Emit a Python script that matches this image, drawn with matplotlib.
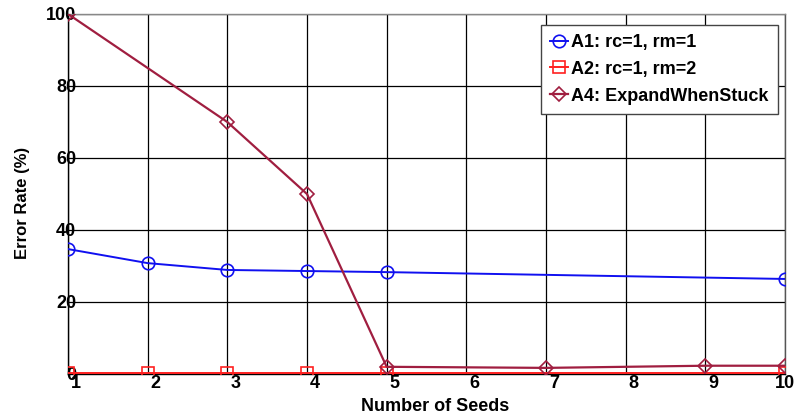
import matplotlib.pyplot as plt
import matplotlib.transforms as mtransforms

plt.rcParams['font.family'] = ['Liberation Sans', 'DejaVu Sans']
plt.rcParams['font.weight'] = 'bold'

seeds_a1 = [1, 2, 3, 4, 5, 10]
err_a1 = [34.7, 30.8, 28.9, 28.6, 28.3, 26.4]

seeds_a2 = [1, 2, 3, 4, 5, 10]
err_a2 = [0.2, 0.2, 0.2, 0.2, 0.2, 0.2]

seeds_a4 = [1, 3, 4, 5, 7, 9, 10]
err_a4 = [100, 70, 50, 2.0, 1.7, 2.3, 2.3]

x_ticks = [1, 2, 3, 4, 5, 6, 7, 8, 9, 10]
y_ticks = [0, 20, 40, 60, 80, 100]

fig = plt.figure(figsize=(7.95, 4.19), dpi=100)
ax = fig.add_axes([0.0855, 0.1074, 0.9019, 0.8592])

ax.plot(seeds_a1, err_a1, color='#1010f0', marker='o', markersize=9,
        markerfacecolor='none', markeredgewidth=1.2, lw=1.4,
        label='A1: rc=1, rm=1', zorder=4)
ax.plot(seeds_a2, err_a2, color='#ff2020', marker='s', markersize=8,
        markerfacecolor='none', markeredgewidth=1.2, lw=1.4,
        label='A2: rc=1, rm=2', zorder=3)
ax.plot(seeds_a4, err_a4, color='#a01e40', marker='D', markersize=7,
        markerfacecolor='none', markeredgewidth=1.2, lw=1.6,
        label='A4: ExpandWhenStuck', zorder=5)

ax.set_xlim(1, 10)
ax.set_ylim(0, 100)
ax.set_xticks(x_ticks)
ax.set_yticks(y_ticks)
ax.grid(True, color='black', lw=0.9)
ax.tick_params(length=0, labelsize=13)
ax.tick_params(axis='x', pad=1)
ax.tick_params(axis='y', pad=-6)

xlabs = ax.get_xticklabels()
for i, lab in enumerate(xlabs):
    lab.set_fontweight('bold')
    if i == len(xlabs) - 1:
        lab.set_horizontalalignment('right')
        dx = 10
    else:
        dx = 8
    lab.set_transform(lab.get_transform() +
                      mtransforms.ScaledTranslation(dx / 100, 0, fig.dpi_scale_trans))
for lab in ax.get_yticklabels():
    lab.set_fontweight('bold')
for s in ax.spines.values():
    s.set_color('black')
    s.set_linewidth(1.0)
ax.spines['right'].set_color('#555555')
ax.spines['top'].set_color('#888888')

ax.set_xlabel('Number of Seeds', fontsize=13, fontweight='bold')
ax.xaxis.set_label_coords(0.512, -0.066)
ax.set_ylabel('Error Rate (%)', fontsize=12, fontweight='bold')
ax.yaxis.set_label_coords(-0.053, 0.475)

leg = ax.legend(loc='upper right', bbox_to_anchor=(0.99, 0.97), fontsize=13,
                handlelength=1.0, handletextpad=0.2, labelspacing=0.55,
                borderpad=0.5, borderaxespad=0.0, fancybox=False, framealpha=1,
                edgecolor='#444444')
leg.get_frame().set_linewidth(1.0)
for t in leg.get_texts():
    t.set_fontweight('bold')

fig.savefig('out.png', dpi=100)
